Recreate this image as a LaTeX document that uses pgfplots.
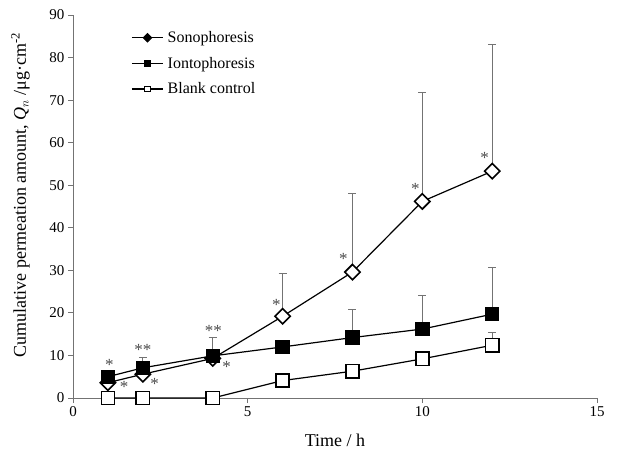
\documentclass[border=0pt]{standalone}
\usepackage{fontspec}
\setmainfont{Liberation Serif}
\usepackage{pgfplots}
\pgfplotsset{compat=1.18}

\definecolor{axgray}{gray}{0.45}
\definecolor{errgray}{gray}{0.45}
\definecolor{stargray}{gray}{0.3}

\pgfplotsset{
  legsono/.style={legend image code/.code={\draw[mark repeat=2,mark phase=2,##1,mark size=3pt,every mark/.append style={fill=black,line width=0.8pt}] plot coordinates {(0cm,0cm)(0.55cm,0cm)(1.1cm,0cm)};}},
  legsq/.style={legend image code/.code={\draw[mark repeat=2,mark phase=2,##1,mark size=2.6pt,every mark/.append style={line width=0.8pt}] plot coordinates {(0cm,0cm)(0.55cm,0cm)(1.1cm,0cm)};}},
}

\begin{document}
\begin{tikzpicture}
\begin{axis}[
  scale only axis,
  width=524pt, height=383pt,
  xmin=0, xmax=15, ymin=0, ymax=90,
  axis lines*=left,
  axis line style={axgray, line width=0.8pt},
  xtick={0,5,10,15}, ytick={0,10,...,90},
  tick align=outside,
  major tick length=5pt,
  tick style={axgray, line width=0.8pt},
  tick label style={font=\fontsize{15}{18}\selectfont},
  /pgf/number format/assume math mode=true,
  xlabel={Time / h},
  ylabel={Cumulative permeation amount, \textit{Q}$_{n}$ /μg·cm\textsuperscript{-2}},
  label style={font=\fontsize{18}{22}\selectfont},
  xlabel style={at={(axis description cs:0.5,-0.11)}, anchor=center},
  ylabel style={at={(axis description cs:-0.1,0.53)}, anchor=center},
  clip=false,
  legend cell align=left,
  legend style={draw=none, fill=none, font=\fontsize{16}{18}\selectfont,
    at={(axis description cs:0.105,0.968)}, anchor=north west,
    row sep=9pt, nodes={inner xsep=4pt}},
]
% error bars (upper only), drawn first so the marks sit on top
\addplot[only marks, mark=none, forget plot, errgray,
  error bars/.cd, y dir=plus, y explicit, error mark=-,
  error bar style={errgray, line width=0.8pt},
  error mark options={errgray, mark size=4pt, line width=1pt, rotate=90}]
  coordinates {
  (6,19.2) +- (0,10.1)
  (8,29.6) +- (0,18.4)
  (10,46.2) +- (0,25.6)
  (12,53.3) +- (0,29.7)
  (2,7.1) +- (0,2.4)
  (4,9.9) +- (0,4.3)
  (8,14.2) +- (0,6.7)
  (10,16.2) +- (0,7.8)
  (12,19.7) +- (0,10.9)
  (10,9.2) +- (0,1.7)
  (12,12.4) +- (0,3.0)
  };

\addplot[black, line width=1.2pt, mark=square*, mark size=5.4pt,
  mark options={rotate=45, fill=white, line width=1.6pt}, legsono]
  coordinates {(1,3.6) (2,5.6) (4,9.3) (6,19.2) (8,29.6) (10,46.2) (12,53.3)};
\addlegendentry{Sonophoresis}

\addplot[black, line width=1.2pt, mark=square*, mark size=6.6pt,
  mark options={fill=black, line width=1.2pt}, legsq]
  coordinates {(1,5.0) (2,7.1) (4,9.9) (6,12.0) (8,14.2) (10,16.2) (12,19.7)};
\addlegendentry{Iontophoresis}

\addplot[black, line width=1.2pt, mark=square*, mark size=6.6pt,
  mark options={fill=white, line width=1.6pt}, legsq]
  coordinates {(1,0) (2,0) (4,0) (6,4.1) (8,6.3) (10,9.2) (12,12.4)};
\addlegendentry{Blank control}

% significance marks
\addplot[only marks, mark=none, forget plot,
  point meta=explicit symbolic,
  nodes near coords={\pgfplotspointmeta},
  every node near coord/.style={anchor=center, text=stargray,
    font=\fontsize{17}{17}\selectfont}]
  coordinates {
  (1.04,7.7) [*]
  (1.46,2.7) [*]
  (2.0,11.3) [**]
  (2.34,3.4) [*]
  (4.02,15.8) [**]
  (4.40,7.2) [*]
  (5.82,21.9) [*]
  (7.74,32.7) [*]
  (9.80,49.1) [*]
  (11.78,56.4) [*]
  };
\end{axis}
\path[use as bounding box] (-73pt,-61pt) rectangle (544pt,398pt);
\end{tikzpicture}
\end{document}
